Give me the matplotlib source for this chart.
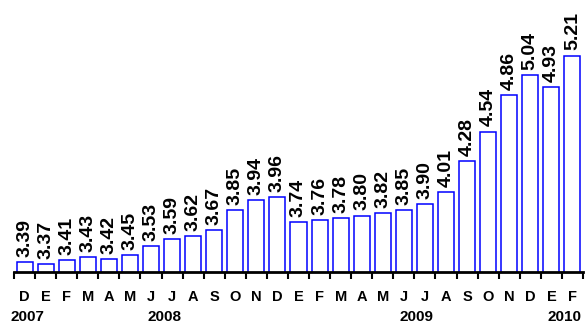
import numpy as np
import matplotlib.pyplot as plt
import matplotlib.transforms as mtransforms

# datos
meses = ['D', 'E', 'F', 'M', 'A', 'M', 'J', 'J', 'A', 'S', 'O', 'N',
         'D', 'E', 'F', 'M', 'A', 'M', 'J', 'J', 'A', 'S', 'O', 'N',
         'D', 'E', 'F']
valores = [3.39, 3.37, 3.41, 3.43, 3.42, 3.45, 3.53, 3.59, 3.62, 3.67,
           3.85, 3.94, 3.96, 3.74, 3.76, 3.78, 3.80, 3.82, 3.85, 3.90,
           4.01, 4.28, 4.54, 4.86, 5.04, 4.93, 5.21]
anios = ['2007', '2008', '2009', '2010']
anio_inicio = [0, 1, 13, 25]
anio_fin = [0, 12, 24, 26]

fig = plt.figure(figsize=(5.86, 3.23), dpi=100)
ax = fig.add_axes([14 / 586, 51 / 323, 569 / 586, 272 / 323])

x = np.arange(len(valores))
ax.bar(x, valores, width=0.76, color='white', edgecolor='#0000ff',
       linewidth=1.1, zorder=2)

for xi, v in zip(x, valores):
    ax.text(xi, v + 0.045, '%.2f' % v, rotation=90, ha='center', va='bottom',
            fontsize=14, fontweight='bold', family='Liberation Sans')

ax.set_xlim(-0.5, len(valores) - 0.5)
ax.set_ylim(3.302, 5.70)

for s in ['left', 'right', 'top']:
    ax.spines[s].set_visible(False)
ax.spines['bottom'].set_linewidth(2)
ax.set_yticks([])

# ticks en los limites de las categorias
ax.set_xticks(np.arange(-0.5, len(valores) + 0.5, 1))
ax.set_xticklabels([])
ax.tick_params(axis='x', length=5, width=1.5, direction='out')

trans = mtransforms.blended_transform_factory(ax.transData, fig.transFigure)
for xi, m in zip(x, meses):
    ax.text(xi, 1 - 297 / 323, m, ha='center', va='center', fontsize=10.5,
            fontweight='bold', family='Liberation Sans', transform=trans)

for a, i0, i1 in zip(anios, anio_inicio, anio_fin):
    ax.text((i0 + i1) / 2 + 0.12, 1 - 317 / 323, a, ha='center', va='center',
            fontsize=11, fontweight='bold', family='Liberation Sans',
            transform=trans, clip_on=False)

fig.savefig('out.png', dpi=100)
